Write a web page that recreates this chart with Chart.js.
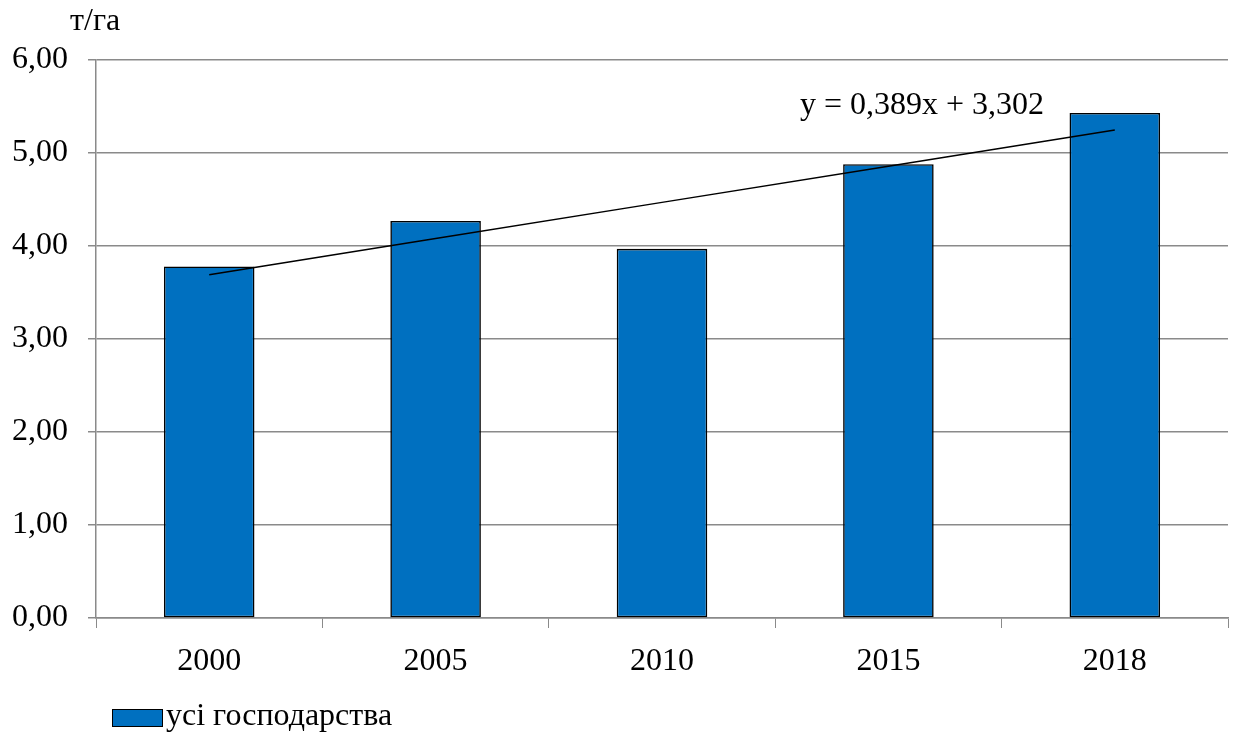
<!DOCTYPE html>
<html>
<head>
<meta charset="utf-8">
<script src="https://cdn.jsdelivr.net/npm/chart.js@4/dist/chart.umd.min.js"></script>
<style>
  html, body { margin: 0; padding: 0; background: #fff; }
  #wrap { width: 1234px; height: 736px; position: relative; }
</style>
</head>
<body>
<div id="wrap"><canvas id="myChart" width="1234" height="736"></canvas></div>
<script>
// врожайність, т/га
var years = ['2000', '2005', '2010', '2015', '2018'];
var yields = [3.78, 4.27, 3.97, 4.88, 5.43];
// лінійний тренд y = 0,389x + 3,302 у точках x = 1..5
var trend = [3.691, 4.080, 4.469, 4.858, 5.247];
var yTicks = [0, 1, 2, 3, 4, 5, 6];
var seriesName = 'усі господарства';
var trendLabel = 'y = 0,389x + 3,302';
var unitLabel = 'т/га';

var FONT = '"Liberation Serif", "Times New Roman", serif';
var GRID = '#8a8a8a';

// підписи, легенда та рівняння тренду
var extras = {
  id: 'extras',
  afterDraw: function (chart) {
    var c = chart.ctx;
    c.save();
    c.fillStyle = '#000';
    c.font = '32px ' + FONT;
    c.textBaseline = 'alphabetic';
    c.textAlign = 'left';
    c.fillText(unitLabel, 70, 30);
    c.fillText(trendLabel, 800, 114);

    var ds = chart.data.datasets[1];
    c.fillStyle = ds.backgroundColor;
    c.fillRect(112, 709, 50, 17);
    c.strokeStyle = '#000';
    c.lineWidth = 1;
    c.strokeRect(112.5, 709.5, 50, 17);
    c.fillStyle = '#000';
    c.textBaseline = 'middle';
    c.fillText(seriesName, 166, 717);
    c.restore();
  }
};

var ctx = document.getElementById('myChart').getContext('2d');
var myChart = new Chart(ctx, {
  type: 'bar',
  data: {
    labels: years,
    datasets: [{
      type: 'line',
      label: 'тренд',
      data: trend,
      borderColor: '#000',
      borderWidth: 1.5,
      pointRadius: 0,
      fill: false,
      order: 0
    }, {
      label: seriesName,
      data: yields,
      backgroundColor: '#0070C0',
      borderColor: '#000',
      borderWidth: 1.6,
      borderSkipped: false,
      categoryPercentage: 1,
      barPercentage: 0.4,
      order: 1
    }]
  },
  options: {
    responsive: false,
    animation: false,
    layout: { padding: { top: 60, right: 6, bottom: 50, left: 0 } },
    plugins: {
      legend: { display: false },
      tooltip: { enabled: false }
    },
    scales: {
      x: {
        offset: true,
        grid: {
          offset: true,
          drawOnChartArea: false,
          drawTicks: true,
          tickLength: 10,
          color: GRID
        },
        border: { color: GRID, width: 1.5 },
        ticks: {
          color: '#000',
          font: { family: FONT, size: 32 },
          padding: 14,
          maxRotation: 0
        },
        afterFit: function (scale) { scale.height = 68; }
      },
      y: {
        min: 0,
        max: 6,
        afterBuildTicks: function (scale) {
          scale.ticks = yTicks.map(function (v) { return { value: v }; });
        },
        grid: {
          color: GRID,
          lineWidth: 1.5,
          tickLength: 8
        },
        border: { color: GRID, width: 1.5 },
        ticks: {
          color: '#000',
          font: { family: FONT, size: 32 },
          padding: 20,
          callback: function (v) { return v.toFixed(2).replace('.', ','); }
        },
        afterFit: function (scale) { scale.width = 96; }
      }
    }
  },
  plugins: [extras]
});
</script>
</body>
</html>
